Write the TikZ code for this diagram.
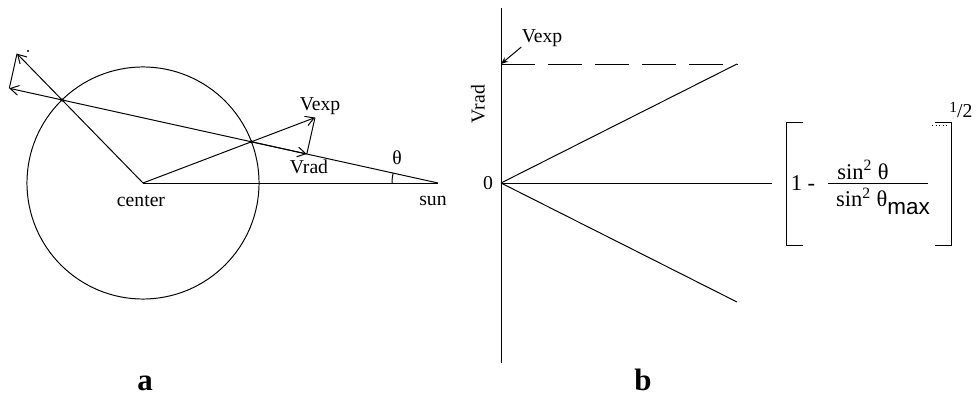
\documentclass[tikz,border=0pt]{standalone}
\usepackage{fontspec}
\setmainfont{Liberation Serif}
\setsansfont{Liberation Sans}
\usetikzlibrary{arrows.meta}
\begin{document}
\begin{tikzpicture}[x=0.025cm,y=-0.025cm, line width=0.7pt,
  vecarrow/.style={-{Straight Barb[length=6pt,width=7pt]}},
  smallarrow/.style={-{Stealth[length=5pt,width=4pt]}},
  lbl/.style={font=\fontsize{14}{16}\selectfont, inner sep=0pt},
  frm/.style={font=\fontsize{16}{18}\selectfont, inner sep=0pt},
  panellabel/.style={font=\fontsize{22}{24}\selectfont\bfseries, inner sep=0pt, anchor=base},
  jdot/.style={circle, fill, inner sep=0pt, minimum size=2.5pt}]
\useasboundingbox (0,0) rectangle (976,399);
% ---------- panel a ----------
\coordinate (C) at (143,183);
\coordinate (S) at (438,183);
\coordinate (P1) at (251.4,141.8);
\coordinate (P2) at (62.1,100);
\coordinate (E1) at (315,117.6);
\coordinate (R1) at (306.8,154);
\coordinate (E2) at (17,53.7);
\coordinate (L2) at (9.3,88.3);
\draw (C) circle[radius=2.9cm];
\draw (C) -- (S);
\draw[vecarrow] (S) -- (L2);
\draw[vecarrow] (C) -- (E1);
\draw[vecarrow] (C) -- (E2);
\draw[vecarrow] (P1) -- (R1);
\draw (E1) -- (R1);
\draw (E2) -- (L2);
\node[jdot] (d1) at (P1) {};
\node[jdot] (d2) at (P2) {};
\fill (28,51) circle[radius=0.8pt];
\draw (S) ++(-46,0) arc[start angle=180, end angle=167.54, radius=1.15cm];
\node[lbl] (tc) at (141,201) {center};
\node[lbl] (ts) at (433,201) {sun};
\node[lbl] (tve) at (320,106) {Vexp};
\node[lbl] (tvr) at (309,167) {Vrad};
\node[lbl] (tth) at (397,158) {θ};
% ---------- panel b ----------
\coordinate (O) at (501,183);
\coordinate (Ytop) at (501,8);
\coordinate (Ybot) at (501,363);
\coordinate (Xend) at (772,183);
\coordinate (U) at (737,64);
\coordinate (D) at (737,302);
\coordinate (Vl) at (501,64);
\draw (Ytop) -- (Ybot);
\draw (O) -- (Xend);
\draw (O) -- (U);
\draw (O) -- (D);
\draw[dash pattern=on 24pt off 9.5pt] (Vl) -- (U);
\node[lbl] (bve) at (542,38) {Vexp};
\draw[smallarrow] (bve.south west) -- (Vl);
\node[lbl, rotate=90] (bvr) at (478,104) {Vrad};
\node[lbl] (b0) at (488,183) {0};
% formula
\draw (803,122) -- (786,122) -- (786,245) -- (803,245);
\draw (935,122) -- (951,122) -- (951,245) -- (935,245);
\draw[dotted, line width=0.5pt] (932,125) -- (947,125);
\node[frm] (one) at (803,183) {1 -};
\node[frm] (num) at (863,170) {sin\textsuperscript{2} θ};
\draw (828,183) -- (928,183);
\node[frm] (den) at (883,201) {sin\textsuperscript{2} θ\raisebox{-5pt}{\sffamily max}};
\node[lbl] (half) at (961,110) {\raisebox{3pt}{\fontsize{11}{11}\selectfont 1}/2};
% panel labels
\node[panellabel] (la) at (145,391) {a};
\node[panellabel] (lb) at (643,391) {b};
\end{tikzpicture}
\end{document}
